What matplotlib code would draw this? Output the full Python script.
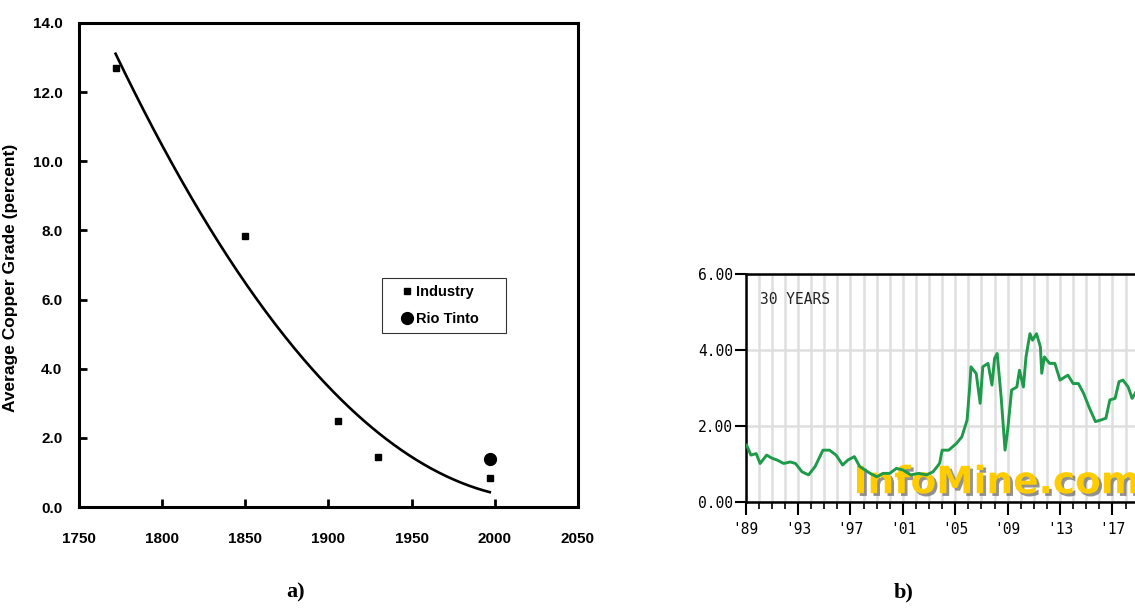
import numpy as np
import matplotlib.pyplot as plt
import matplotlib.patheffects as pe
from matplotlib.ticker import MultipleLocator

# panel a) copper grade data
industry_year = [1772, 1850, 1906, 1930, 1997]
industry_grade = [12.7, 7.85, 2.5, 1.45, 0.85]
rio_year = [1997]
rio_grade = [1.38]

# panel b) copper price, 30 years (read off the picture)
price_year = [1989.07, 1989.4, 1989.8, 1990.1, 1990.6, 1991.0, 1991.4, 1991.9, 1992.4, 1992.8,
              1993.3, 1993.8, 1994.3, 1994.9, 1995.4, 1995.9, 1996.4, 1996.8, 1997.3, 1997.7,
              1998.5, 1999.0, 1999.5, 2000.0, 2000.5, 2001.0, 2001.6, 2002.2, 2002.8, 2003.3,
              2003.8, 2004.0, 2004.5, 2005.1, 2005.5, 2005.9, 2006.1, 2006.2, 2006.6, 2006.9,
              2007.1, 2007.5, 2007.8, 2008.0, 2008.2, 2008.5, 2008.8, 2009.0, 2009.3, 2009.7,
              2009.9, 2010.2, 2010.4, 2010.7, 2010.9, 2011.2, 2011.5, 2011.6, 2011.8, 2012.2,
              2012.6, 2013.0, 2013.4, 2013.6, 2014.0, 2014.4, 2014.8, 2015.2, 2015.7, 2016.1,
              2016.5, 2016.8, 2017.2, 2017.5, 2017.8, 2018.2, 2018.5, 2018.8, 2019.3]
price_value = [1.50, 1.24, 1.28, 1.02, 1.24, 1.16, 1.11, 1.02, 1.06, 1.02,
               0.80, 0.72, 0.94, 1.37, 1.37, 1.24, 0.98, 1.11, 1.20, 0.94,
               0.76, 0.67, 0.76, 0.76, 0.89, 0.85, 0.72, 0.76, 0.72, 0.80,
               1.02, 1.37, 1.37, 1.55, 1.72, 2.16, 3.03, 3.56, 3.38, 2.60,
               3.56, 3.65, 3.08, 3.78, 3.91, 2.77, 1.37, 1.90, 2.95, 3.03,
               3.47, 3.03, 3.82, 4.43, 4.26, 4.43, 4.08, 3.39, 3.82, 3.65,
               3.65, 3.21, 3.30, 3.34, 3.12, 3.12, 2.86, 2.51, 2.12, 2.16,
               2.21, 2.69, 2.73, 3.17, 3.21, 3.03, 2.73, 2.90, 2.80]
price_ticks = [1989, 1993, 1997, 2001, 2005, 2009, 2013, 2017]
price_ticklabels = ["'89", "'93", "'97", "'01", "'05", "'09", "'13", "'17"]

fig = plt.figure(figsize=(11.35, 6.13), dpi=100)

# ---- a) ----
ax = fig.add_axes([0.0696, 0.1729, 0.4396, 0.7896])
# polynomial trendline (2nd order) through the industry points
coef = np.polyfit(industry_year, industry_grade, 2)
xs = np.linspace(industry_year[0], industry_year[-1], 200)
ax.plot(xs, np.polyval(coef, xs), color='black', lw=1.9, zorder=2)
ax.plot(industry_year, industry_grade, 's', color='black', ms=4.5, label='Industry', zorder=3)
ax.plot(rio_year, rio_grade, 'o', color='black', ms=8.5, label='Rio Tinto', zorder=3)
ax.set_xlim(1750, 2050)
ax.set_ylim(0, 14)
ax.xaxis.set_major_locator(MultipleLocator(50))
ax.yaxis.set_major_locator(MultipleLocator(2))
ax.yaxis.set_major_formatter(plt.FormatStrFormatter('%.1f'))
for s in ax.spines.values():
    s.set_linewidth(2.2)
ax.tick_params(direction='in', length=6, width=2)
ax.tick_params(axis='y', pad=12)
ax.tick_params(axis='x', pad=18)
for lab in ax.get_xticklabels() + ax.get_yticklabels():
    lab.set_fontfamily('Liberation Sans')
    lab.set_fontweight('bold')
    lab.set_fontsize(11)
ax.set_ylabel('Average Copper Grade (percent)', fontfamily='Liberation Sans',
              fontweight='bold', fontsize=12.5)
ax.yaxis.set_label_coords(-0.122, 0.473)
leg = ax.legend(loc='upper left', bbox_to_anchor=(0.607, 0.373, 0.2485, 0.1), mode='expand',
                borderaxespad=0, frameon=True, fancybox=False, edgecolor='black',
                handlelength=2.6, handletextpad=-0.7, borderpad=0.45, labelspacing=0.95,
                prop={'family': 'Liberation Sans', 'weight': 'bold', 'size': 10.5})
leg.get_frame().set_linewidth(0.8)

# ---- b) ----
bx = fig.add_axes([0.657, 0.1806, 0.352, 0.3725])
bx.set_xlim(1989, 2019.5)
bx.set_ylim(0, 6)
bx.set_xticks(price_ticks)
bx.set_xticklabels(price_ticklabels)
bx.set_xticks(np.arange(1989, 2020), minor=True)
bx.set_yticks([0, 2, 4, 6])
bx.set_yticklabels(['0.00', '2.00', '4.00', '6.00'])
bx.grid(True, which='minor', axis='x', color='#dedede', lw=1.8)
bx.grid(True, which='major', axis='x', color='#dedede', lw=1.8)
bx.grid(True, axis='y', color='#dedede', lw=1.8)
bx.set_axisbelow(True)
for s in bx.spines.values():
    s.set_linewidth(1.8)
bx.tick_params(axis='x', which='major', length=9, width=1.5, pad=5)
bx.tick_params(axis='x', which='minor', length=5, width=1.2)
bx.tick_params(axis='y', length=8, width=1.5, pad=1)
for lab in bx.get_xticklabels() + bx.get_yticklabels():
    lab.set_fontfamily('DejaVu Sans Mono')
    lab.set_fontsize(10.5)
bx.text(0.035, 0.89, '30 YEARS', transform=bx.transAxes, fontfamily='DejaVu Sans Mono',
        fontsize=10.5, va='center', ha='left', color='#222222')
bx.text(0.27, 0.04, 'InfoMine.com', transform=bx.transAxes, fontfamily='DejaVu Sans',
        fontweight='bold', fontsize=27, color='#ffcc00', va='baseline', ha='left', zorder=1,
        path_effects=[pe.withSimplePatchShadow(offset=(2, -2), shadow_rgbFace='#777777', alpha=0.8)])
bx.plot(price_year, price_value, color='#1e9a4a', lw=2.1, zorder=3)

fig.text(0.26, 0.034, 'a)', fontfamily='Liberation Serif', fontweight='bold', fontsize=16,
         ha='center', va='center')
fig.text(0.796, 0.034, 'b)', fontfamily='Liberation Serif', fontweight='bold', fontsize=16,
         ha='center', va='center')

fig.savefig('out.png', dpi=100)
